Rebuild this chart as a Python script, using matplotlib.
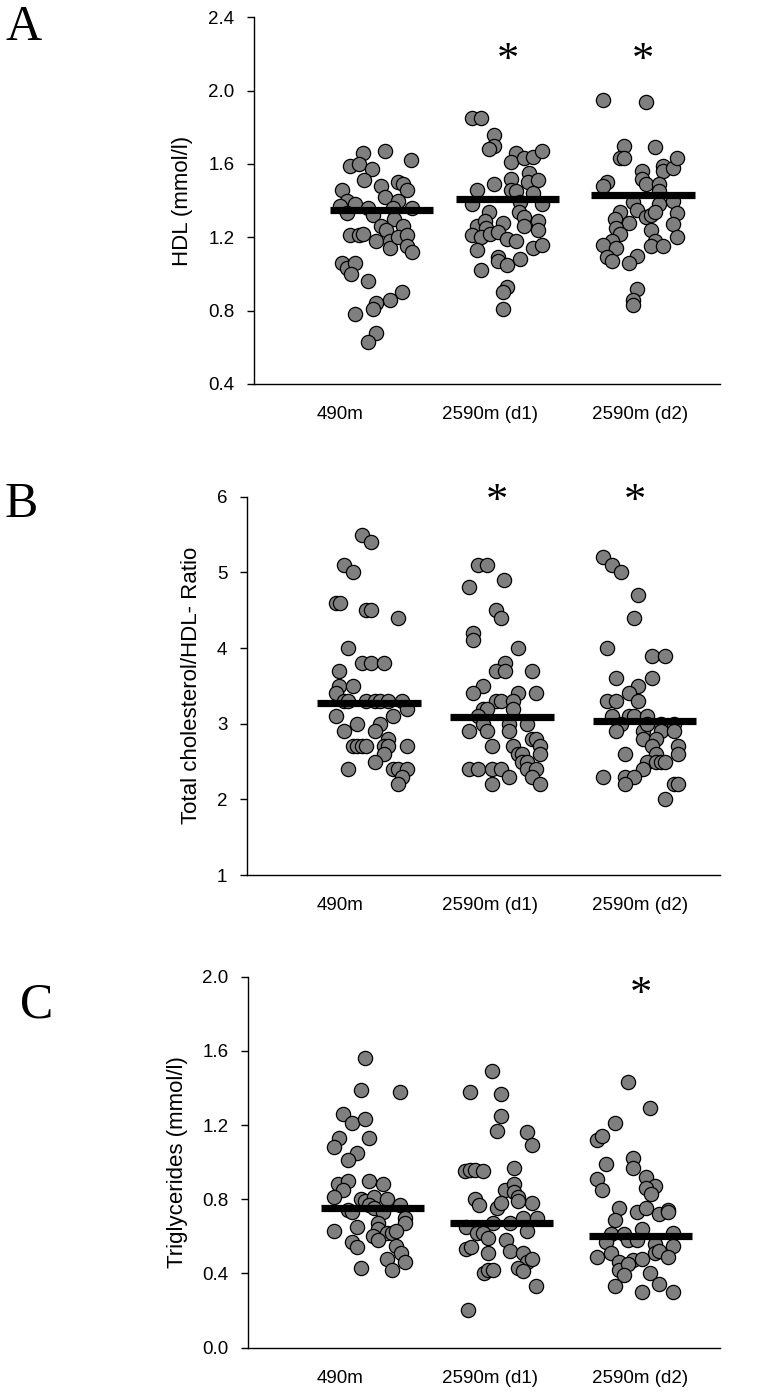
import numpy as np
import matplotlib
matplotlib.use("Agg")
import matplotlib.pyplot as plt

plt.rcParams['font.family'] = ['Liberation Sans', 'DejaVu Sans']

groups = ['490m', '2590m (d1)', '2590m (d2)']

# HDL (mmol/l)
hdl_490 = [1.66, 1.67, 1.62, 1.59, 1.60, 1.57, 1.51, 1.48, 1.50, 1.49, 1.46, 1.46, 1.40, 1.42, 1.40, 1.37,
           1.38, 1.36, 1.36, 1.36, 1.33, 1.32, 1.30, 1.26, 1.24, 1.26, 1.21, 1.21, 1.22, 1.18, 1.18, 1.14,
           1.20, 1.21, 1.15, 1.12, 1.06, 1.03, 1.06, 1.00, 0.96, 0.90, 0.86, 0.84, 0.81, 0.78, 0.68, 0.63]
hdl_490_jit = [0.155, 0.30, 0.473, 0.067, 0.129, 0.215, 0.16, 0.273, 0.389, 0.418, 0.444, 0.013, 0.044, 0.30,
               0.389, 0.0, 0.10, 0.189, 0.355, 0.478, 0.044, 0.218, 0.36, 0.273, 0.304, 0.418, 0.067, 0.129,
               0.155, 0.24, 0.333, 0.333, 0.385, 0.444, 0.444, 0.478, 0.013, 0.044, 0.10, 0.073, 0.184, 0.416,
               0.333, 0.24, 0.218, 0.10, 0.24, 0.184]
hdl_d1 = [1.85, 1.85, 1.76, 1.70, 1.68, 1.66, 1.61, 1.63, 1.64, 1.67, 1.55, 1.52, 1.50, 1.51, 1.46, 1.49,
          1.46, 1.45, 1.44, 1.38, 1.39, 1.38, 1.34, 1.34, 1.31, 1.29, 1.28, 1.26, 1.29, 1.25, 1.26, 1.24,
          1.21, 1.20, 1.22, 1.23, 1.19, 1.18, 1.14, 1.16, 1.13, 1.09, 1.07, 1.05, 1.08, 1.02, 0.93, 0.90, 0.81]
hdl_d1_jit = [-0.122, -0.06, 0.027, 0.027, -0.004, 0.171, 0.14, 0.229, 0.289, 0.344, 0.26, 0.14, 0.255, 0.318,
              -0.089, 0.027, 0.14, 0.173, 0.289, -0.118, 0.20, 0.344, -0.004, 0.195, 0.229, 0.318, 0.084,
              -0.089, -0.033, -0.027, 0.229, 0.318, -0.122, -0.062, 0.0, 0.055, 0.111, 0.173, 0.289, 0.344,
              -0.089, 0.055, 0.055, 0.111, 0.20, -0.06, 0.111, 0.084, 0.084]
hdl_d2 = [1.95, 1.94, 1.70, 1.63, 1.63, 1.69, 1.56, 1.59, 1.56, 1.58, 1.63, 1.52, 1.49, 1.49, 1.50, 1.48,
          1.45, 1.39, 1.35, 1.38, 1.40, 1.34, 1.33, 1.30, 1.28, 1.31, 1.32, 1.34, 1.25, 1.22, 1.24, 1.27,
          1.20, 1.18, 1.16, 1.14, 1.18, 1.15, 1.15, 1.09, 1.07, 1.10, 1.06, 0.92, 0.86, 0.83]
hdl_d2_jit = [-0.249, 0.04, -0.105, -0.133, -0.105, 0.10, 0.011, 0.155, 0.155, 0.218, 0.245, 0.011, 0.04, 0.129,
              -0.222, -0.249, 0.129, -0.049, -0.018, 0.129, 0.218, -0.133, 0.245, -0.167, -0.073, 0.04, 0.071,
              0.10, -0.16, -0.133, 0.071, 0.218, 0.245, -0.189, -0.249, -0.16, 0.10, 0.071, 0.155, -0.222,
              -0.189, -0.018, -0.073, -0.018, -0.044, -0.044]
hdl_mean = [1.35, 1.41, 1.43]

# Total cholesterol / HDL ratio
ratio_490 = [5.5, 5.4, 5.1, 5.0, 4.6, 4.6, 4.5, 4.5, 4.4, 4.0, 3.8, 3.8, 3.8, 3.7, 3.5, 3.5, 3.4, 3.3, 3.3,
             3.3, 3.3, 3.3, 3.3, 3.3, 3.2, 3.1, 3.1, 3.0, 3.0, 2.9, 2.9, 2.8, 2.7, 2.7, 2.7, 2.7, 2.7, 2.7,
             2.7, 2.6, 2.5, 2.4, 2.4, 2.4, 2.4, 2.3, 2.2]
ratio_490_jit = [0.149, 0.204, 0.027, 0.084, -0.029, 0.0, 0.173, 0.204, 0.385, 0.055, 0.144, 0.207, 0.295,
                 -0.004, -0.004, 0.084, -0.029, 0.027, 0.055, 0.173, 0.233, 0.267, 0.322, 0.415, 0.444, -0.029,
                 0.355, 0.115, 0.267, 0.027, 0.233, 0.322, 0.084, 0.115, 0.144, 0.173, 0.295, 0.322, 0.444,
                 0.295, 0.233, 0.055, 0.355, 0.385, 0.444, 0.415, 0.385]
ratio_d1 = [5.1, 5.1, 4.8, 4.9, 4.5, 4.4, 4.2, 4.1, 4.0, 3.8, 3.7, 3.7, 3.7, 3.5, 3.4, 3.4, 3.4, 3.3, 3.3,
            3.3, 3.2, 3.2, 3.2, 3.1, 3.0, 3.0, 3.0, 2.9, 2.9, 2.9, 2.8, 2.8, 2.7, 2.7, 2.7, 2.6, 2.6, 2.6,
            2.5, 2.5, 2.4, 2.4, 2.4, 2.4, 2.4, 2.4, 2.3, 2.3, 2.2, 2.2]
ratio_d1_jit = [-0.082, -0.018, -0.14, 0.095, 0.04, 0.071, -0.111, -0.111, 0.184, 0.10, 0.04, 0.10, 0.278,
                -0.049, -0.111, 0.184, 0.304, 0.04, 0.071, 0.155, -0.049, -0.018, 0.155, -0.082, -0.049, 0.127,
                0.245, -0.14, -0.018, 0.127, 0.278, 0.304, 0.011, 0.155, 0.333, 0.184, 0.215, 0.333, 0.215,
                0.245, -0.14, -0.082, 0.011, 0.071, 0.245, 0.304, 0.127, 0.278, 0.011, 0.333]
ratio_d2 = [5.2, 5.1, 5.0, 4.7, 4.4, 4.0, 3.9, 3.9, 3.6, 3.6, 3.5, 3.4, 3.3, 3.3, 3.3, 3.1, 3.1, 3.1, 3.1,
            3.0, 3.0, 3.0, 2.9, 2.9, 3.0, 2.9, 2.9, 2.8, 2.8, 2.7, 2.7, 2.6, 2.6, 2.6, 2.5, 2.5, 2.5, 2.5,
            2.4, 2.3, 2.3, 2.3, 2.2, 2.2, 2.2, 2.0]
ratio_d2_jit = [-0.249, -0.189, -0.129, -0.011, -0.04, -0.218, 0.078, 0.167, -0.16, 0.078, -0.011, -0.071,
                -0.222, -0.16, -0.011, -0.189, -0.071, -0.04, 0.049, -0.129, 0.138, 0.227, -0.16, 0.018, 0.049,
                0.138, 0.227, 0.018, 0.107, 0.078, 0.255, -0.1, 0.107, 0.255, 0.049, 0.107, 0.138, 0.167, 0.018,
                -0.249, -0.1, -0.04, -0.1, 0.227, 0.255, 0.167]
ratio_mean = [3.27, 3.09, 3.03]

# Triglycerides (mmol/l)
tg_490 = [1.56, 1.39, 1.38, 1.26, 1.21, 1.23, 1.13, 1.08, 1.13, 1.05, 1.01, 0.88, 0.90, 0.90, 0.88, 0.85,
          0.81, 0.80, 0.79, 0.81, 0.80, 0.77, 0.75, 0.77, 0.74, 0.73, 0.73, 0.70, 0.67, 0.65, 0.67, 0.63,
          0.64, 0.62, 0.62, 0.63, 0.60, 0.58, 0.57, 0.54, 0.55, 0.51, 0.48, 0.46, 0.43, 0.42]
tg_490_jit = [0.167, 0.138, 0.40, 0.022, 0.078, 0.167, -0.007, -0.038, 0.195, 0.111, 0.051, -0.011, 0.051,
              0.195, 0.284, 0.022, -0.038, 0.138, 0.167, 0.227, 0.315, 0.195, 0.227, 0.40, 0.051, 0.082, 0.284,
              0.433, 0.433, 0.111, 0.255, -0.038, 0.255, 0.311, 0.345, 0.373, 0.222, 0.255, 0.082, 0.111,
              0.373, 0.404, 0.315, 0.433, 0.138, 0.345]
tg_d1 = [1.49, 1.38, 1.37, 1.25, 1.17, 1.16, 1.09, 0.95, 0.96, 0.96, 0.95, 0.97, 0.85, 0.88, 0.84, 0.81,
         0.80, 0.77, 0.75, 0.78, 0.78, 0.79, 0.70, 0.70, 0.65, 0.67, 0.67, 0.63, 0.62, 0.62, 0.59, 0.58,
         0.53, 0.54, 0.52, 0.51, 0.51, 0.46, 0.48, 0.43, 0.41, 0.40, 0.42, 0.42, 0.33, 0.20]
tg_d1_jit = [0.015, -0.131, 0.073, 0.073, 0.044, 0.249, 0.278, -0.167, -0.133, -0.10, -0.044, 0.16, 0.10, 0.16,
             0.16, 0.189, -0.10, -0.071, 0.044, 0.073, 0.278, 0.189, 0.218, 0.311, -0.16, 0.018, 0.133, 0.249,
             -0.089, -0.044, -0.011, 0.104, -0.16, -0.129, 0.133, -0.016, 0.222, 0.249, 0.278, 0.189, 0.222,
             -0.04, -0.011, 0.018, 0.307, -0.147]
tg_d2 = [1.43, 1.29, 1.21, 1.12, 1.14, 0.99, 1.02, 0.97, 0.91, 0.85, 0.92, 0.87, 0.86, 0.83, 0.75, 0.69,
         0.73, 0.75, 0.72, 0.74, 0.73, 0.64, 0.61, 0.61, 0.62, 0.57, 0.58, 0.58, 0.56, 0.55, 0.49, 0.51,
         0.51, 0.52, 0.49, 0.46, 0.47, 0.48, 0.42, 0.45, 0.39, 0.40, 0.34, 0.33, 0.30, 0.30]
tg_d2_jit = [-0.078, 0.067, -0.167, -0.284, -0.256, -0.227, -0.049, -0.049, -0.284, -0.256, 0.04, 0.10, 0.04,
             0.071, -0.138, -0.167, -0.022, 0.04, 0.129, 0.184, 0.184, 0.011, -0.196, -0.107, 0.218, -0.227,
             -0.078, -0.022, 0.10, 0.218, -0.284, -0.196, 0.10, 0.129, 0.184, -0.138, -0.049, 0.011, -0.138,
             -0.078, -0.107, 0.067, 0.129, -0.167, 0.011, 0.218]
tg_mean = [0.75, 0.67, 0.60]

W, H = 778, 1394
fig = plt.figure(figsize=(W / 100, H / 100), dpi=100)

X0_PX, STEP_PX, RIGHT_PX = 340, 150, 720


def make_panel(left, top, bottom, vals, jits, means, bar_off, ylim, ticks, fmt, ylabel, lab_x,
               letter, letter_xy, stars):
    ax = fig.add_axes([left / W, 1 - bottom / H, (RIGHT_PX - left) / W, (bottom - top) / H])
    for i in range(3):
        x = i + np.array(jits[i])
        ax.scatter(x, vals[i], s=105, facecolor='#7f7f7f', edgecolor='black', linewidth=0.9,
                   zorder=3, clip_on=False)
        c = i + bar_off[i]
        ax.plot([c - 0.345, c + 0.345], [means[i], means[i]], color='black', lw=5.2,
                solid_capstyle='butt', zorder=4)
    ax.set_xlim((left - X0_PX) / STEP_PX, (RIGHT_PX - X0_PX) / STEP_PX)
    ax.set_ylim(*ylim)
    ax.set_yticks(ticks)
    ax.set_yticklabels([fmt.format(t) for t in ticks])
    ax.set_xticks(range(3))
    ax.set_xticklabels(groups)
    for s in ['top', 'right']:
        ax.spines[s].set_visible(False)
    ax.spines['left'].set_linewidth(1.0)
    ax.spines['bottom'].set_linewidth(1.0)
    ax.tick_params(axis='y', direction='out', length=5, width=1.0, pad=9, labelsize=13.5)
    ax.tick_params(axis='x', length=0, pad=16, labelsize=13.5)
    ax.set_ylabel(ylabel, fontsize=16)
    ax.yaxis.set_label_coords(lab_x, 0.5)
    for sx, sy in stars:
        ax.text(sx, sy, '*', fontsize=32, family='Liberation Serif', ha='center', va='center')
    fig.text(letter_xy[0] / W, 1 - letter_xy[1] / H, letter, fontsize=36,
             family='Liberation Serif', ha='left', va='baseline')
    return ax


make_panel(254, 17.3, 384, [hdl_490, hdl_d1, hdl_d2], [hdl_490_jit, hdl_d1_jit, hdl_d2_jit],
           hdl_mean, [0.277, 0.117, 0.02], (0.4, 2.4), [0.4, 0.8, 1.2, 1.6, 2.0, 2.4], '{:.1f}',
           'HDL (mmol/l)', -0.131, 'A', (5, 40), [(1.122, 2.16), (2.022, 2.16)])

make_panel(246.7, 496.7, 875, [ratio_490, ratio_d1, ratio_d2], [ratio_490_jit, ratio_d1_jit, ratio_d2_jit],
           ratio_mean, [0.193, 0.081, 0.031], (1, 6), [1, 2, 3, 4, 5, 6], '{:d}',
           'Total cholesterol/HDL- Ratio', -0.094, 'B', (5, 517), [(1.045, 5.93), (1.967, 5.93)])

make_panel(247.7, 976.7, 1347.5, [tg_490, tg_d1, tg_d2], [tg_490_jit, tg_d1_jit, tg_d2_jit],
           tg_mean, [0.216, 0.075, 0.002], (0.0, 2.0), [0.0, 0.4, 0.8, 1.2, 1.6, 2.0], '{:.1f}',
           'Triglycerides (mmol/l)', -0.126, 'C', (20, 1018), [(2.007, 1.90)])

fig.savefig('out.png', dpi=100)
